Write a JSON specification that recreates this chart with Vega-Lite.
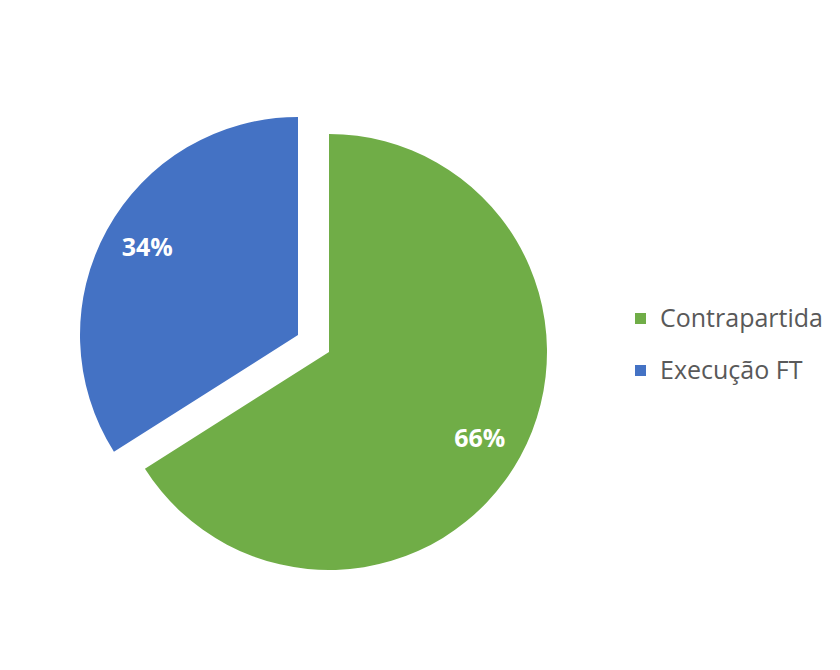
{
  "$schema": "https://vega.github.io/schema/vega-lite/v6.json",
  "width": 658,
  "height": 704,
  "padding": {"left": 0, "top": 0, "right": 182, "bottom": 0},
  "autosize": {"type": "none"},
  "background": "white",
  "data": {"values": [
    {"category": "Contrapartida", "value": 66, "label": "66%"},
    {"category": "Execução FT", "value": 34, "label": "34%"}
  ]},
  "encoding": {
    "theta": {"field": "value", "type": "quantitative", "stack": true},
    "order": {"field": "value", "type": "quantitative", "sort": "descending"}
  },
  "layer": [
    {
      "mark": {"type": "arc", "outerRadius": 218},
      "encoding": {
        "color": {"field": "category", "type": "nominal",
          "scale": {"domain": ["Contrapartida", "Execução FT"], "range": ["#70AD47", "#4472C4"]},
          "legend": {"orient": "none", "legendX": 628, "legendY": 306, "title": null,
            "symbolType": "square", "symbolSize": 121, "symbolStrokeWidth": 0,
            "labelFontSize": 25, "labelFont": "Open Sans", "labelColor": "#595959",
            "rowPadding": 26, "labelOffset": 7, "labelLimit": 300}},
        "opacity": {"condition": {"test": "datum.category === 'Contrapartida'", "value": 1}, "value": 0}
      }
    },
    {
      "mark": {"type": "arc", "outerRadius": 218, "xOffset": -31, "yOffset": -17},
      "encoding": {
        "color": {"field": "category", "type": "nominal"},
        "opacity": {"condition": {"test": "datum.category === 'Execução FT'", "value": 1}, "value": 0}
      }
    },
    {
      "mark": {"type": "text", "radius": 172, "dy": 4, "font": "Open Sans", "fontWeight": "bold", "fontSize": 25, "fill": "white"},
      "encoding": {
        "text": {"field": "label", "type": "nominal"},
        "opacity": {"condition": {"test": "datum.category === 'Contrapartida'", "value": 1}, "value": 0}
      }
    },
    {
      "mark": {"type": "text", "radius": 172, "dy": -4, "xOffset": -31, "yOffset": -17, "font": "Open Sans", "fontWeight": "bold", "fontSize": 25, "fill": "white"},
      "encoding": {
        "text": {"field": "label", "type": "nominal"},
        "opacity": {"condition": {"test": "datum.category === 'Execução FT'", "value": 1}, "value": 0}
      }
    }
  ],
  "config": {"view": {"stroke": null}}
}
